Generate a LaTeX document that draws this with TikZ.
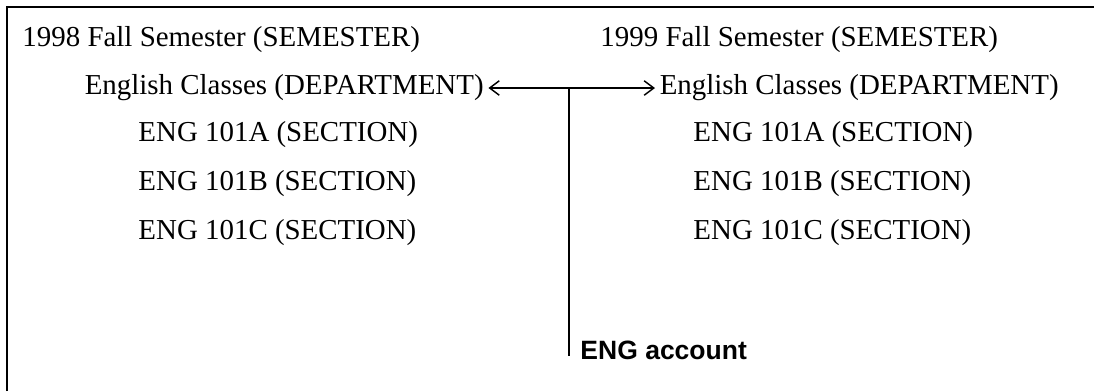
\documentclass[tikz,border=0pt]{standalone}
\usepackage{fontspec}
\setmainfont{Liberation Serif}
\newfontfamily\acctfont{Liberation Sans}
\usetikzlibrary{arrows.meta}
\begin{document}
\begin{tikzpicture}[x=0.415pt, y=-0.415pt,
    term/.style={font=\fontsize{12}{14}\selectfont, inner sep=0pt, anchor=west},
    dept/.style={term, outer sep=2pt},
    link/.style={line width=0.6pt, {Straight Barb[length=4pt, width=6pt]}-{Straight Barb[length=4pt, width=6pt]}}]
      \def\colA{22}
      \def\colB{600}
      %
      \useasboundingbox (0,0) rectangle (1094,391);
      \draw[line width=0.85pt] (7,391) -- (7,7) -- (1094,7);   % frame
      %
      \node[term] (semA) at (\colA, 40) {1998 Fall Semester (SEMESTER)};
      \node[dept] (depA) at (80, 88) {English Classes (DEPARTMENT)};
      \node[term] (secAa) at (138, 135) {ENG 101A (SECTION)};
      \node[term] (secAb) at (138, 184) {ENG 101B (SECTION)};
      \node[term] (secAc) at (138, 233) {ENG 101C (SECTION)};
      %
      \node[term] (semB) at (\colB, 40) {1999 Fall Semester (SEMESTER)};
      \node[dept] (depB) at (655, 88) {English Classes (DEPARTMENT)};
      \node[term] (secBa) at (693, 135) {ENG 101A (SECTION)};
      \node[term] (secBb) at (693, 184) {ENG 101B (SECTION)};
      \node[term] (secBc) at (693, 233) {ENG 101C (SECTION)};
      %
      \draw[link] (depA.east) -- (depB.west);
      \coordinate (tee) at (569, 88);
      \node[anchor=west, inner sep=0pt, font=\acctfont\bfseries\fontsize{11}{13}\selectfont] (acct) at (580, 350) {ENG account};
      \draw[line width=0.6pt] (tee) -- ([yshift=-2.5pt]tee |- acct.center);
      %
    \end{tikzpicture}
\end{document}
